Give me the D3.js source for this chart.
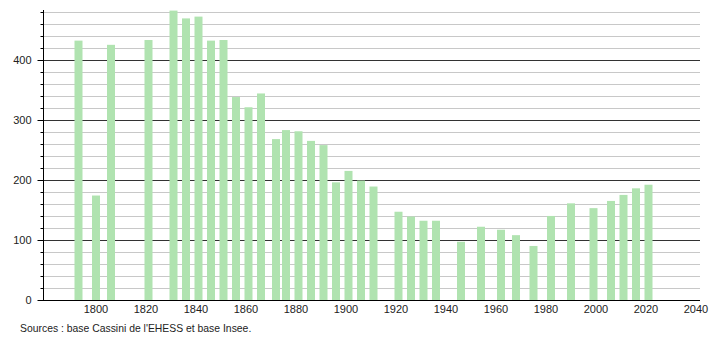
<!DOCTYPE html>
<html>
<head>
<meta charset="utf-8">
<script src="https://cdn.jsdelivr.net/npm/d3@7"></script>
<style>
  body { margin: 0; background: #fff; }
  text { font-family: "Liberation Sans", Arial, sans-serif; }
</style>
</head>
<body>
<div id="chart"></div>
<script>
// census years and population
const years = [1793, 1800, 1806, 1821, 1831, 1836, 1841, 1846, 1851, 1856, 1861, 1866,
  1872, 1876, 1881, 1886, 1891, 1896, 1901, 1906, 1911, 1921, 1926, 1931, 1936,
  1946, 1954, 1962, 1968, 1975, 1982, 1990, 1999, 2006, 2011, 2016, 2021];
const population = [432, 174, 425, 433, 482, 469, 472, 432, 433, 338, 321, 344,
  268, 283, 281, 265, 258, 196, 215, 199, 189, 147, 139, 132, 132,
  97, 122, 117, 108, 90, 140, 161, 153, 165, 175, 186, 192];
const xTicks = [1800, 1820, 1840, 1860, 1880, 1900, 1920, 1940, 1960, 1980, 2000, 2020, 2040];
const yMajor = [0, 100, 200, 300, 400];
const sourceText = "Sources : base Cassini de l'EHESS et base Insee.";

const width = 710, height = 340;
const margin = { top: 10, right: 10, bottom: 40, left: 43 };

const svg = d3.select('#chart').append('svg')
  .attr('width', width)
  .attr('height', height);

const x = d3.scaleLinear()
  .domain([1778.8, 2041.6])
  .range([margin.left, width - margin.right]);

const y = d3.scaleLinear()
  .domain([0, 483])
  .range([height - margin.bottom, margin.top]);

const minor = d3.range(20, 483, 20).filter(v => v % 100 !== 0);

// minor grid
svg.append('g')
  .selectAll('line')
  .data(minor)
  .join('line')
  .attr('x1', margin.left)
  .attr('x2', width - margin.right)
  .attr('y1', d => Math.round(y(d)) + 0.5)
  .attr('y2', d => Math.round(y(d)) + 0.5)
  .attr('stroke', '#c8c8c8');

// major grid
svg.append('g')
  .selectAll('line')
  .data(yMajor.filter(d => d > 0))
  .join('line')
  .attr('x1', margin.left)
  .attr('x2', width - margin.right)
  .attr('y1', d => Math.round(y(d)) + 0.5)
  .attr('y2', d => Math.round(y(d)) + 0.5)
  .attr('stroke', '#333');

// bars
const barW = 8;
svg.append('g')
  .selectAll('rect')
  .data(years)
  .join('rect')
  .attr('x', d => x(d) - barW / 2)
  .attr('width', barW)
  .attr('y', (d, i) => y(population[i]))
  .attr('height', (d, i) => y(0) - y(population[i]))
  .attr('fill', '#b0e3b0');

// y axis
const yAxis = svg.append('g')
  .attr('transform', `translate(${margin.left + 0.5},0)`);
yAxis.append('line')
  .attr('y1', margin.top)
  .attr('y2', y(0))
  .attr('stroke', '#000');
yAxis.selectAll('.minor')
  .data(minor)
  .join('line')
  .attr('x1', -3).attr('x2', 0)
  .attr('y1', d => Math.round(y(d)) + 0.5)
  .attr('y2', d => Math.round(y(d)) + 0.5)
  .attr('stroke', '#000');
yAxis.selectAll('.major')
  .data(yMajor)
  .join('line')
  .attr('x1', -6).attr('x2', 0)
  .attr('y1', d => Math.round(y(d)) + 0.5)
  .attr('y2', d => Math.round(y(d)) + 0.5)
  .attr('stroke', '#000');
yAxis.selectAll('text')
  .data(yMajor)
  .join('text')
  .attr('x', -12)
  .attr('y', d => y(d) + 4)
  .attr('text-anchor', 'end')
  .attr('font-size', '11px')
  .attr('fill', '#222')
  .text(d => d);

// x axis
svg.append('line')
  .attr('x1', margin.left)
  .attr('x2', width - margin.right)
  .attr('y1', Math.round(y(0)) + 0.5)
  .attr('y2', Math.round(y(0)) + 0.5)
  .attr('stroke', '#000');
svg.append('g')
  .selectAll('text')
  .data(xTicks)
  .join('text')
  .attr('x', d => x(d))
  .attr('y', y(0) + 13)
  .attr('text-anchor', 'middle')
  .attr('font-size', '11px')
  .attr('fill', '#222')
  .text(d => d);

// source
svg.append('text')
  .attr('x', 20)
  .attr('y', 332)
  .attr('font-size', '10.4px')
  .attr('fill', '#222')
  .text(sourceText);
</script>
</body>
</html>
